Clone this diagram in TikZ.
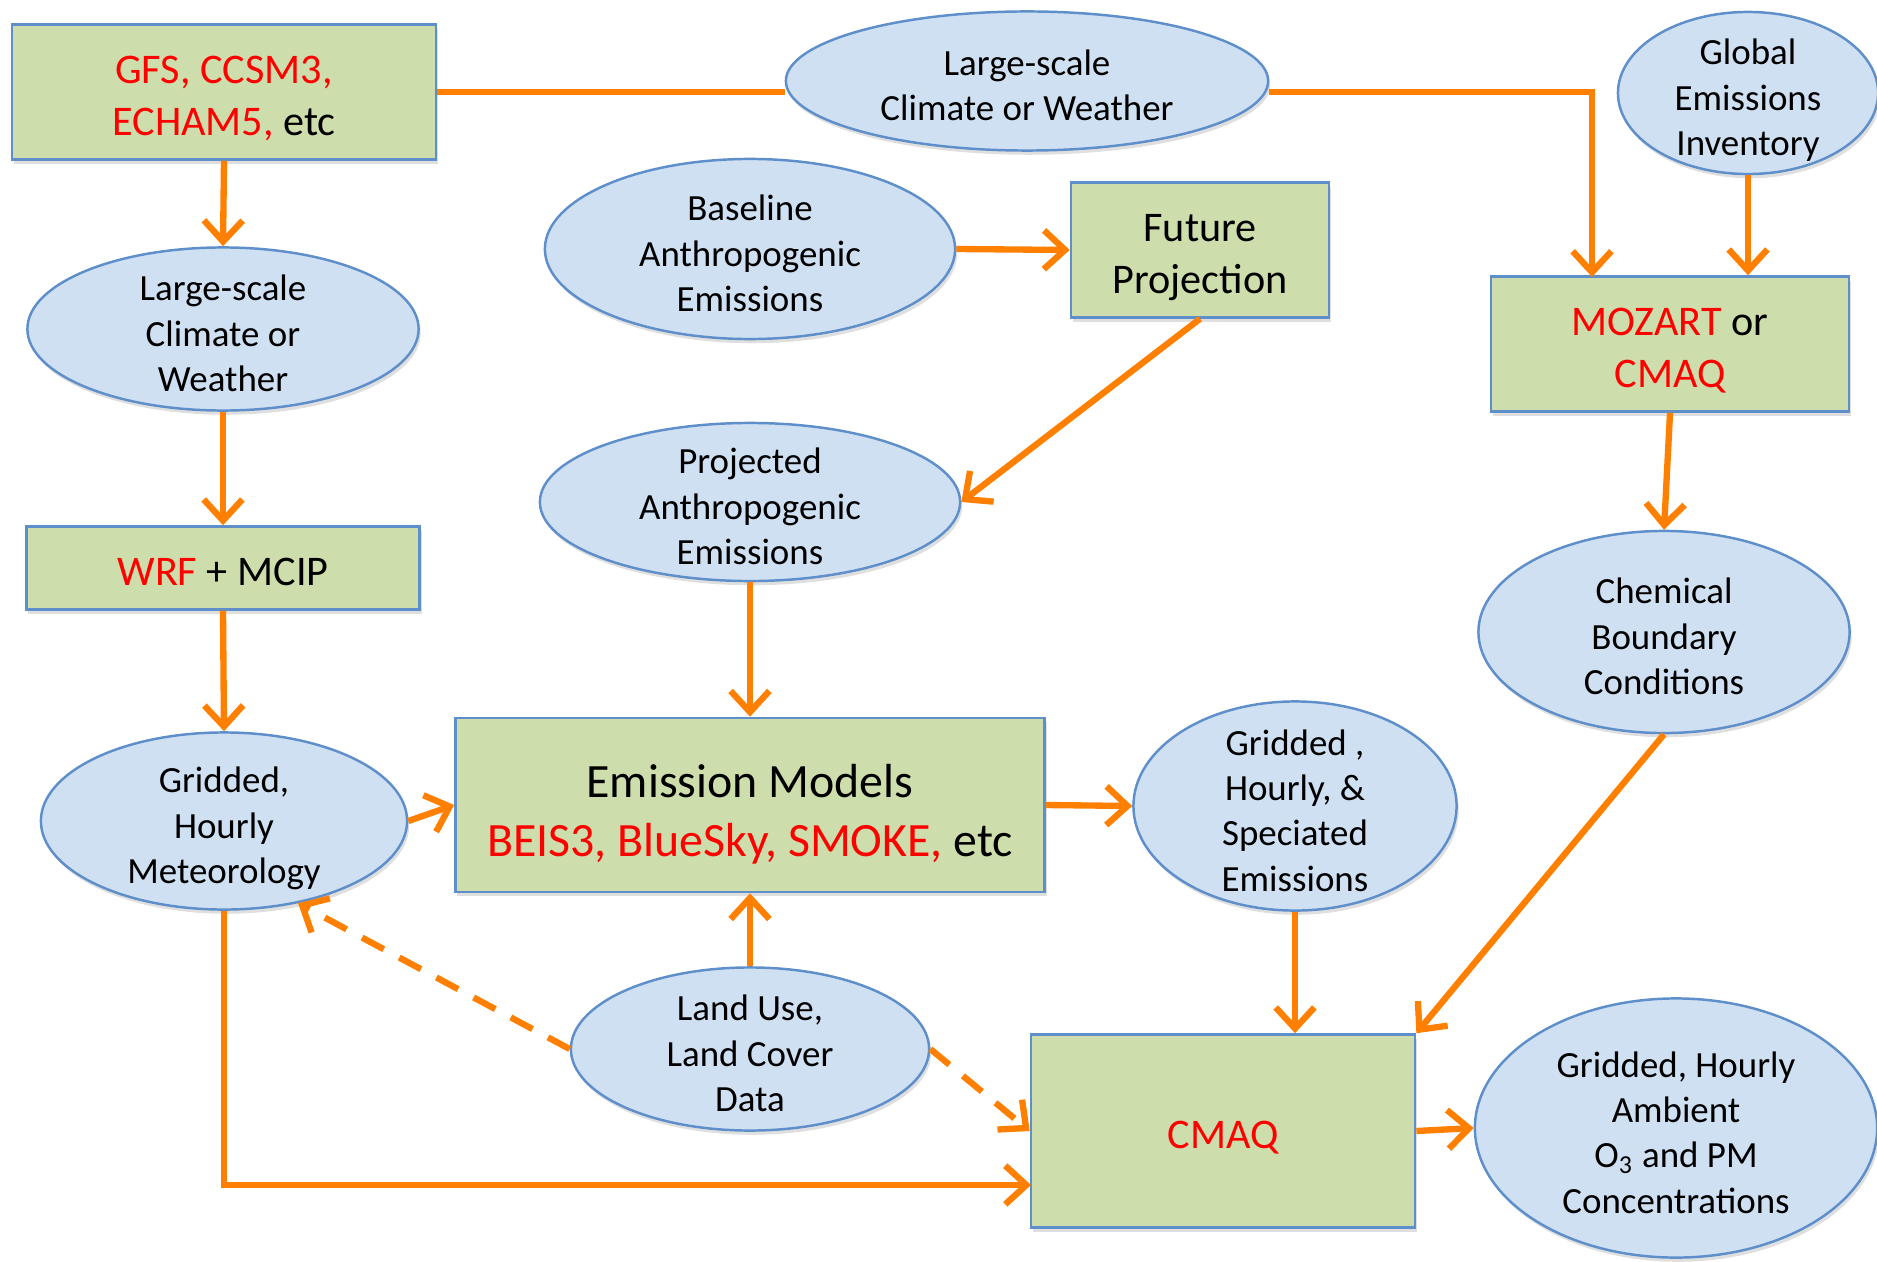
\documentclass[tikz,border=0pt]{standalone}
\usepackage{fontspec}
\setmainfont{Carlito}
\usepackage{xcolor}
\usetikzlibrary{shapes.geometric,arrows.meta,shadows}
\definecolor{boxgreen}{RGB}{205,221,172}
\definecolor{ovalblue}{RGB}{207,224,242}
\definecolor{edgeblue}{RGB}{95,143,202}
\definecolor{flowor}{RGB}{255,128,0}
\newcommand{\ovaltxt}{\fontsize{10.5}{12.9}\selectfont}
\newcommand{\boxtxt}{\fontsize{12}{14.6}\selectfont}
\newcommand{\bigtxt}{\fontsize{13.6}{16.6}\selectfont}
\newcommand{\redtxt}[1]{\textcolor{red}{#1}}

\begin{document}
\begin{tikzpicture}[x=0.01cm,y=-0.01cm,
		model/.style={rectangle,draw=edgeblue,fill=boxgreen,line width=0.7pt,align=center,font=\boxtxt,inner sep=2pt,
			text depth=0pt,text height=\dimexpr 14.6pt*(#1-1)+10pt\relax,
			drop shadow={opacity=0.25,shadow xshift=0.6pt,shadow yshift=-1.2pt}},
		model/.default=2,
		data/.style={ellipse,draw=edgeblue,fill=ovalblue,line width=0.7pt,align=center,font=\ovaltxt,inner sep=-0.3cm,
			text depth=0pt,text height=\dimexpr 12.9pt*(#1-1)+9.8pt\relax,
			drop shadow={opacity=0.25,shadow xshift=0.6pt,shadow yshift=-1.2pt}},
		data/.default=3,
		link/.style={draw=flowor,line width=1.8pt},
		flow/.style={link,-{Straight Barb[length=6pt,width=11pt]}},
		guess/.style={flow,dash pattern=on 7pt off 5pt}]

		\useasboundingbox (0,0) rectangle (1877,1261);

		\node[model,minimum width=4.24cm,minimum height=1.35cm] (gfs) at (224,92) {\redtxt{GFS, CCSM3,}\\\redtxt{ECHAM5,} etc};
		\node[data=2,minimum width=4.82cm,minimum height=1.39cm] (topclim) at (1027,81) {Large-scale\\Climate or Weather};
		\node[data,minimum width=2.6cm,minimum height=1.62cm] (global) at (1748,93) {Global\\Emissions\\Inventory};
		\node[data,minimum width=3.91cm,minimum height=1.63cm] (climl) at (223,329) {Large-scale\\Climate or\\Weather};
		\node[data,minimum width=4.1cm,minimum height=1.8cm] (base) at (750,249) {Baseline\\Anthropogenic\\Emissions};
		\node[model,minimum width=2.58cm,minimum height=1.35cm] (future) at (1200,250) {Future\\Projection};
		\node[model,minimum width=3.58cm,minimum height=1.35cm] (mozart) at (1670,344) {\redtxt{MOZART} or\\\redtxt{CMAQ}};
		\node[data,minimum width=4.2cm,minimum height=1.58cm] (proj) at (750,502) {Projected\\Anthropogenic\\Emissions};
		\node[model=1,minimum width=3.93cm,minimum height=0.83cm] (wrf) at (223,568) {\redtxt{WRF} + MCIP};
		\node[data,minimum width=3.71cm,minimum height=2.02cm] (chem) at (1664,632) {Chemical\\Boundary\\Conditions};
		\node[data,minimum width=3.66cm,minimum height=1.77cm] (meteo) at (224,821) {Gridded,\\Hourly\\Meteorology};
		\node[model,minimum width=5.89cm,minimum height=1.74cm,font=\bigtxt,text height=29.1pt] (emis) at (750,805) {Emission Models\\\redtxt{BEIS3, BlueSky, SMOKE,} etc};
		\node[data=4,minimum width=3.23cm,minimum height=2.09cm] (spec) at (1295,806) {Gridded ,\\Hourly, \&\\Speciated\\Emissions};
		\node[data,minimum width=3.58cm,minimum height=1.63cm] (land) at (750,1049) {Land Use,\\Land Cover\\Data};
		\node[model=1,minimum width=3.84cm,minimum height=1.93cm] (cmaq) at (1223,1131) {\redtxt{CMAQ}};
		\node[data=4,minimum width=4.02cm,minimum height=2.59cm] (amb) at (1676,1128) {Gridded, Hourly\\Ambient\\O\textsubscript{3} and PM\\Concentrations};

		\coordinate (mzin) at (1592,277);
		\coordinate (cmaqin) at (1031,1185);

		\draw[link] (gfs.east) -- (topclim.west |- gfs.east);
		\draw[flow] (topclim.east |- gfs.east) -| (mzin);
		\draw[flow] (gfs.south) -- (climl.north);
		\draw[flow] (climl.south) -- (wrf.north);
		\draw[flow] (wrf.south) -- (meteo.north);
		\draw[flow] (base.east) -- (future.west);
		\draw[flow] (future.south) -- (proj.east);
		\draw[flow] (global.south) -- (global.south |- mozart.north);
		\draw[flow] (mozart.south) -- (chem.north);
		\draw[flow] (proj.south) -- (emis.north);
		\draw[flow] (meteo.east) -- (emis.west);
		\draw[flow] (emis.east) -- (spec.west);
		\draw[flow] (spec.south) -- (spec.south |- cmaq.north);
		\draw[flow] (chem.south) -- (cmaq.north east);
		\draw[flow] (land.north) -- (emis.south);
		\draw[guess] (land.west) -- (meteo.-48);
		\draw[guess] (land.east) -- (cmaq.west);
		\draw[flow] (meteo.south) |- (cmaqin);
		\draw[flow] (cmaq.east) -- (amb.west);

\end{tikzpicture}
\end{document}
